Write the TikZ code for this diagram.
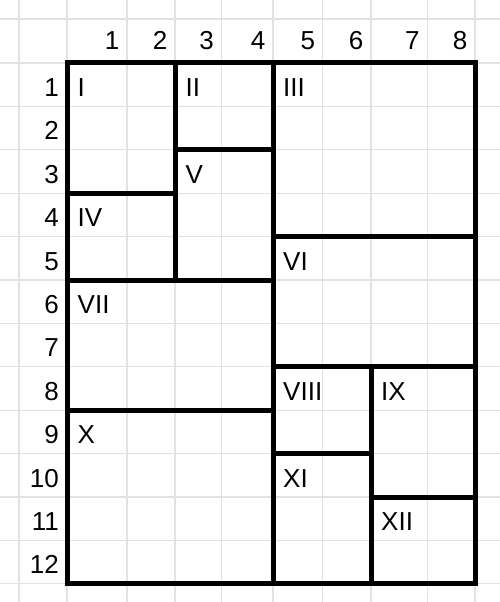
\documentclass[tikz,border=0pt]{standalone}
\usepackage{fontspec}
\setmainfont{Liberation Sans}
\definecolor{gridgrey}{HTML}{E2E2E2}
\begin{document}
\begin{tikzpicture}[x=1pt,y=-1pt,
  gridline/.style={draw=gridgrey, line width=1.3pt},
  region/.style={draw=black, line width=5pt},
  num/.style={inner sep=0pt, font=\fontsize{26}{26}\selectfont, anchor=base east},
  lab/.style={inner sep=0pt, font=\fontsize{26}{26}\selectfont, anchor=base west}]
\useasboundingbox (0,0) rectangle (500,602);
% grey spreadsheet grid
\foreach \x in {19,67,127,175,221.5,273,322.7,371,427.3,475}
  \draw[gridline] (\x,0) -- (\x,602);
\foreach \y in {19,63,106.4,149.8,193.2,236.6,280,323.4,366.8,410.2,453.6,497,540.4,583.8}
  \draw[gridline] (0,\y) -- (500,\y);
% column headers
\foreach \i/\x in {1/127,2/175,3/221.5,4/273,5/322.7,6/371,7/427.3,8/475}
  \node[num] (c\i) at (\x-7.5,49.5) {\i};
% row headers
\foreach \i/\y in {1/106.4,2/149.8,3/193.2,4/236.6,5/280,6/323.4,7/366.8,8/410.2,9/453.6,10/497,11/540.4,12/583.8}
  \node[num] (r\i) at (59,\y-10) {\i};
% regions
\draw[region] (67,63) rectangle (175,193.2);
\draw[region] (175,63) rectangle (273,149.8);
\draw[region] (273,63) rectangle (475,236.6);
\draw[region] (67,193.2) rectangle (175,280);
\draw[region] (175,149.8) rectangle (273,280);
\draw[region] (273,236.6) rectangle (475,366.8);
\draw[region] (67,280) rectangle (273,410.2);
\draw[region] (273,366.8) rectangle (371,453.6);
\draw[region] (371,366.8) rectangle (475,497);
\draw[region] (67,410.2) rectangle (273,583.8);
\draw[region] (273,453.6) rectangle (371,583.8);
\draw[region] (371,497) rectangle (475,583.8);
% region labels
\node[lab] (lI)    at (77.5,96.4)  {I};
\node[lab] (lII)   at (185.5,96.4) {II};
\node[lab] (lIII)  at (283,96.4)   {III};
\node[lab] (lIV)   at (77.5,226.6) {IV};
\node[lab] (lV)    at (185.5,183.2) {V};
\node[lab] (lVI)   at (283,270)    {VI};
\node[lab] (lVII)  at (77.5,313.4) {VII};
\node[lab] (lVIII) at (283,400.2)  {VIII};
\node[lab] (lIX)   at (381,400.2)  {IX};
\node[lab] (lX)    at (77.5,443.6) {X};
\node[lab] (lXI)   at (283,487)    {XI};
\node[lab] (lXII)  at (381,530.4)  {XII};
\end{tikzpicture}
\end{document}
